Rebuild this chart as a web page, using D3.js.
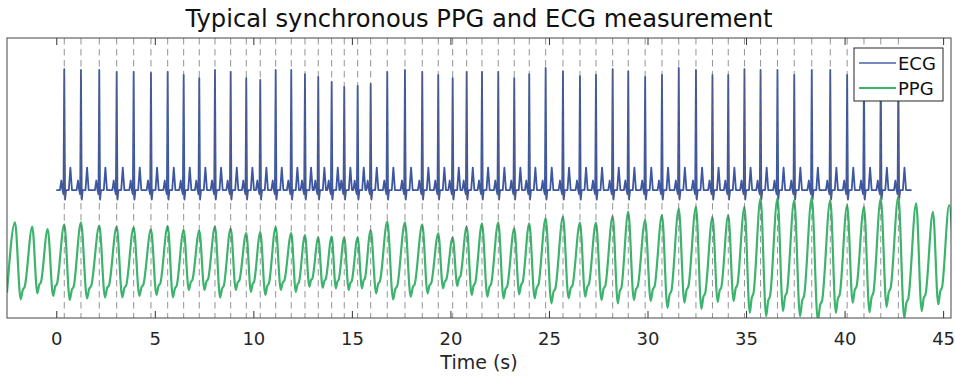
<!DOCTYPE html>
<html>
<head>
<meta charset="utf-8">
<script src="https://cdn.jsdelivr.net/npm/d3@7"></script>
<style>
  body { margin: 0; background: #fff; }
  text { font-family: "DejaVu Sans", Verdana, sans-serif; }
</style>
</head>
<body>
<svg id="chart" width="955" height="376"></svg>
<script>
// R-peak times (s)
const ecgBeatTimes = [0.406, 1.253, 2.182, 3.065, 3.927, 4.805, 5.653, 6.464, 7.256, 8.053,
    8.849, 9.641, 10.351, 11.133, 11.924, 12.619, 13.294, 13.974, 14.613, 15.293,
    15.953, 16.795, 17.693, 18.571, 19.383, 20.114, 20.824, 21.601, 22.428, 23.239,
    24.0, 24.832, 25.71, 26.573, 27.385, 28.232, 29.024, 29.881, 30.734, 31.586,
    32.459, 33.296, 34.098, 34.92, 35.737, 36.595, 37.447, 38.335, 39.274, 40.131,
    40.984, 41.836, 42.729];
// R-peak level (a.u.)
const ecgRPeaks = [8.89, 8.86, 8.86, 8.79, 8.79, 8.75, 8.79, 8.68, 8.57, 8.86,
    8.79, 8.57, 8.5, 8.86, 8.86, 8.71, 8.61, 8.43, 8.25, 8.29,
    8.36, 8.79, 8.86, 8.79, 8.68, 8.57, 8.79, 8.79, 8.79, 8.57,
    8.71, 8.93, 8.82, 8.64, 8.68, 8.89, 8.82, 8.61, 8.68, 8.93,
    8.86, 8.68, 8.68, 8.89, 8.86, 8.86, 8.68, 8.86, 8.86, 8.68,
    8.79, 8.79, 8.79];
const ecgBaseline = 4.57;
const ecgRange = [0, 43.4];
// one heartbeat (P, Q, R, S, T) as offsets from the R peak and levels above baseline
const ecgWaveOffsets = [-0.22, -0.15, -0.09, -0.04, 0, 0.04, 0.09, 0.23, 0.31, 0.39];
const ecgWaveLevels = [0, 0.34, 0, -0.15, null, -0.34, 0, 0, 0.8, 0];

// PPG systolic peaks and the trough after each one
const ppgPeakTimes = [-2.095, -1.218, -0.436].concat(ecgBeatTimes, [43.632, 44.484, 45.306]);
const ppgPeakValues = [3.418, 3.261, 3.179,
    3.346, 3.418, 3.296, 3.261, 3.239, 3.168, 3.286, 3.143, 3.118, 3.261,
    3.204, 3.036, 3.071, 3.25, 3.036, 2.964, 2.882, 2.904, 2.882, 2.882,
    3.143, 3.439, 3.418, 3.346, 3.025, 2.882, 3.261, 3.382, 3.418, 3.204,
    3.382, 3.561, 3.618, 3.404, 3.404, 3.643, 3.796, 3.493, 3.671, 3.911,
    3.971, 3.611, 3.671, 3.971, 4.271, 4.271, 4.214, 4.296, 4.214, 4.036,
    3.971, 4.271, 4.332,
    4.093, 3.793, 4.036];
const ppgTroughValues = [0.668, 0.882, 0.786,
    0.643, 0.704, 0.739, 0.739, 0.786, 0.821, 0.739, 1.0, 1.0, 0.725,
    1.0, 0.929, 0.821, 1.0, 0.929, 1.118, 1.082, 1.061, 1.0, 1.061,
    0.882, 0.668, 0.761, 0.882, 1.061, 1.143, 0.821, 0.761, 0.704, 0.846,
    0.704, 0.525, 0.704, 0.761, 0.643, 0.525, 0.643, 0.607, 0.364, 0.546,
    0.329, 0.571, 0.607, 0.186, 0.064, 0.246, 0.064, -0.107, 0.186, 0.546,
    0.207, 0.4, 0.004,
    0.246, 0.486, 0.9];
const ppgStart = { t: -2.5, v: 0.9 };
// pulse shape between two peaks: fraction of the beat and rise toward the next peak
const ppgShapeFrac = [0.33, 0.45, 0.56];
const ppgShapeRise = [0, 0.13, 0.17];

const xTicks = [0, 5, 10, 15, 20, 25, 30, 35, 40, 45];
const legendItems = ["ECG", "PPG"];

const svg = d3.select("#chart");
const margin = { top: 38, right: 4, bottom: 58, left: 7 };
const width = 955 - margin.left - margin.right;
const height = 376 - margin.top - margin.bottom;
const ecgColor = "#3d57a0";
const ppgColor = "#3db46d";

const x = d3.scaleLinear().domain([-2.5, 45.4]).range([0, width]);
const y = d3.scaleLinear().domain([0, 10]).range([height, 0]);

const g = svg.append("g").attr("transform", `translate(${margin.left},${margin.top})`);

g.append("clipPath").attr("id", "plot-clip")
    .append("rect").attr("width", width).attr("height", height);

// build ECG trace
const ecgPts = [{ t: ecgRange[0], v: ecgBaseline }];
ecgBeatTimes.forEach((t, i) => {
    ecgWaveOffsets.forEach((o, j) => {
        const lv = ecgWaveLevels[j];
        ecgPts.push({ t: t + o, v: lv === null ? ecgRPeaks[i] : ecgBaseline + lv });
    });
});
ecgPts.push({ t: ecgRange[1], v: ecgBaseline });

// build PPG trace
const ppgPts = [ppgStart];
ppgPeakTimes.forEach((t, i) => {
    ppgPts.push({ t: t, v: ppgPeakValues[i] });
    const next = i + 1 < ppgPeakTimes.length ? ppgPeakTimes[i + 1] : t + 0.85;
    const nextV = i + 1 < ppgPeakValues.length ? ppgPeakValues[i + 1] : ppgPeakValues[i];
    const dur = next - t;
    const tr = ppgTroughValues[i];
    ppgPts.push({ t: t + ppgShapeFrac[0] * dur, v: tr });
    if (i + 1 < ppgPeakTimes.length) {
        for (let k = 1; k < ppgShapeFrac.length; k++) {
            ppgPts.push({ t: t + ppgShapeFrac[k] * dur, v: tr + ppgShapeRise[k] * (nextV - tr) });
        }
    }
});

const plot = g.append("g").attr("clip-path", "url(#plot-clip)");

const ecgLine = d3.line().x(d => x(d.t)).y(d => y(d.v));
const ppgLine = d3.line().x(d => x(d.t)).y(d => y(d.v)).curve(d3.curveMonotoneX);

plot.append("path")
    .attr("d", ecgLine(ecgPts))
    .attr("fill", "none")
    .attr("stroke", ecgColor)
    .attr("stroke-width", 1.8)
    .attr("stroke-linejoin", "round");

plot.append("path")
    .attr("d", ppgLine(ppgPts))
    .attr("fill", "none")
    .attr("stroke", ppgColor)
    .attr("stroke-width", 2.2)
    .attr("stroke-linejoin", "round");

// dashed markers at every R peak
plot.selectAll(".beat")
    .data(ecgBeatTimes)
    .join("line")
    .attr("class", "beat")
    .attr("x1", d => x(d)).attr("x2", d => x(d))
    .attr("y1", 0).attr("y2", height)
    .attr("stroke", "#666")
    .attr("stroke-opacity", 0.7)
    .attr("stroke-width", 1)
    .attr("stroke-dasharray", "6.5 4.5");

// axes
const xAxis = d3.axisBottom(x).tickValues(xTicks).tickSizeInner(-7).tickSizeOuter(0).tickPadding(14);
const xAxisTop = d3.axisTop(x).tickValues(xTicks).tickSizeInner(-7).tickSizeOuter(0).tickFormat("");

const gx = g.append("g").attr("transform", `translate(0,${height})`).call(xAxis);
const gxt = g.append("g").call(xAxisTop);
[gx, gxt].forEach(a => {
    a.select(".domain").remove();
    a.selectAll(".tick line").attr("stroke", "#333");
});
gx.selectAll(".tick text")
    .attr("fill", "#262626")
    .style("font-size", "18px")
    .style("font-family", "'DejaVu Sans', sans-serif");

g.append("rect")
    .attr("width", width).attr("height", height)
    .attr("fill", "none")
    .attr("stroke", "#444")
    .attr("stroke-width", 1);

g.append("text")
    .attr("x", width / 2)
    .attr("y", height + 51)
    .attr("text-anchor", "middle")
    .attr("fill", "#262626")
    .style("font-size", "19px")
    .text("Time (s)");

svg.append("text")
    .attr("x", margin.left + width / 2)
    .attr("y", 27)
    .attr("text-anchor", "middle")
    .attr("fill", "#111")
    .style("font-size", "24.2px")
    .text("Typical synchronous PPG and ECG measurement");

// legend
const legend = g.append("g").attr("transform", `translate(${width - 97},10)`);
legend.append("rect")
    .attr("width", 89).attr("height", 53)
    .attr("fill", "#fff")
    .attr("stroke", "#262626")
    .attr("stroke-width", 1);
const legendColors = ["#4a64ad", ppgColor];
legendItems.forEach((name, i) => {
    const ly = 15 + i * 25;
    legend.append("line")
        .attr("x1", 5).attr("x2", 42)
        .attr("y1", ly).attr("y2", ly)
        .attr("stroke", legendColors[i])
        .attr("stroke-width", i === 0 ? 1.6 : 2.2);
    legend.append("text")
        .attr("x", 44)
        .attr("y", ly + 7)
        .attr("fill", "#111")
        .style("font-size", "18px")
        .text(name);
});
</script>
</body>
</html>
